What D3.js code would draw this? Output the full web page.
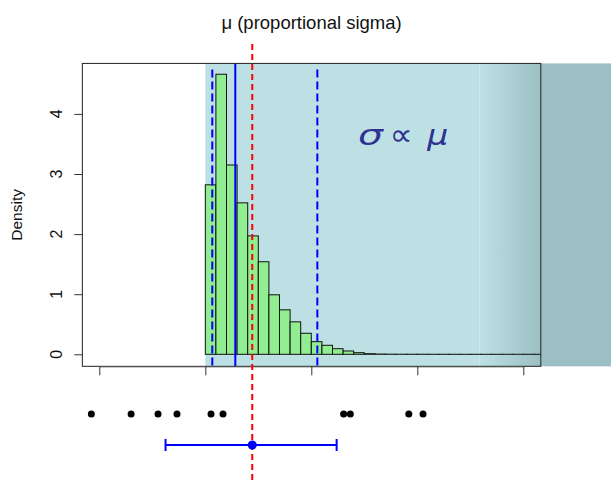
<!DOCTYPE html>
<html>
<head>
<meta charset="utf-8">
<script src="https://cdn.jsdelivr.net/npm/d3@7"></script>
<style>
  body { margin: 0; background: #fff; }
  svg { display: block; font-family: "Liberation Sans", Arial, sans-serif; }
</style>
</head>
<body>
<div id="wrapper"></div>
<script>
// histogram (density), bins of width 0.1 starting at 0
const binStart = 0;
const binWidth = 0.1;
const densities = [2.82, 4.66, 3.15, 2.52, 1.97, 1.54, 0.99, 0.74, 0.54, 0.35,
  0.21, 0.15, 0.093, 0.055, 0.027, 0.01, 0.004, 0.002, 0.001, 0.001,
  0.001, 0.0005, 0.0005, 0.0005, 0.0003, 0.0003, 0.0002, 0.0002, 0.0001, 0.0001,
  0.0001, 0.0001];

// observed points under the plot
const points = [-1.075, -0.70, -0.446, -0.267, 0.054, 0.167, 1.305, 1.368, 1.92, 2.054];
const pointMean = 0.443;
const interval = [-0.375, 1.239];

// vertical reference lines
const solidLine = 0.283;
const dashedLines = [0.066, 1.057];

const xTicks = [-1, 0, 1, 2, 3];
const yTicks = [0, 1, 2, 3, 4];
const xlim = [-1.16, 3.165];
const ylim = [-0.2, 4.84];
const shadeFrom = 0;       // positive-mu region
const fadeFrom = 2.585;    // where the shade starts to darken

// label glyphs: [text, x position (data units), length px, font size, italic]
const labelParts = [["σ", 1.44, 25, 28, true], ["∝", 1.74, 23, 30, false], ["μ", 2.094, 21, 28, true]];
const labelY = 3.49;

const width = 611, height = 480;

const x = d3.scaleLinear().domain([-1, 3]).range([99.3, 523.3]);
const y = d3.scaleLinear().domain([0, 4]).range([354.3, 113.9]);

const pLeft = x(xlim[0]), pRight = x(xlim[1]);
const pTop = y(ylim[1]), pBottom = y(ylim[0]);

const svg = d3.select("#wrapper")
  .append("svg")
  .attr("width", width)
  .attr("height", height);

const defs = svg.append("defs");
const grad = defs.append("linearGradient").attr("id", "fade");
grad.append("stop").attr("offset", "0%").attr("stop-color", "#bde1e4");
grad.append("stop").attr("offset", "100%").attr("stop-color", "#9bbfc2");
defs.append("clipPath").attr("id", "box")
  .append("rect")
  .attr("x", pLeft).attr("y", pTop)
  .attr("width", pRight - pLeft).attr("height", pBottom - pTop);

// shaded region (runs past the box to the right edge)
svg.append("rect")
  .attr("x", pRight).attr("y", pTop)
  .attr("width", width - pRight).attr("height", pBottom - pTop)
  .attr("fill", "#9bbfc2");
svg.append("rect")
  .attr("x", x(shadeFrom)).attr("y", pTop)
  .attr("width", x(fadeFrom) - x(shadeFrom)).attr("height", pBottom - pTop)
  .attr("fill", "#bce0e3");
svg.append("rect")
  .attr("x", x(fadeFrom)).attr("y", pTop)
  .attr("width", pRight - x(fadeFrom)).attr("height", pBottom - pTop)
  .attr("fill", "url(#fade)");

// histogram bars
svg.append("g")
  .attr("clip-path", "url(#box)")
  .selectAll("rect")
  .data(densities)
  .join("rect")
    .attr("x", (d, i) => x(binStart + i * binWidth))
    .attr("y", d => y(d))
    .attr("width", x(binWidth) - x(0))
    .attr("height", d => y(0) - y(d))
    .attr("fill", "#90ee90")
    .attr("stroke", "#111")
    .attr("stroke-width", 1);

// sigma ∝ mu label
svg.append("g")
  .selectAll("text")
  .data(labelParts)
  .join("text")
    .attr("x", d => x(d[1]))
    .attr("y", y(labelY))
    .attr("fill", "#2e3192")
    .attr("font-size", d => d[3])
    .attr("font-family", "DejaVu Sans")
    .attr("font-style", d => d[4] ? "italic" : "normal")
    .attr("textLength", d => d[2])
    .attr("lengthAdjust", "spacingAndGlyphs")
    .text(d => d[0]);

// blue reference lines
svg.append("line")
  .attr("x1", x(solidLine)).attr("x2", x(solidLine))
  .attr("y1", pTop).attr("y2", pBottom)
  .attr("stroke", "#0000ff").attr("stroke-width", 2);
svg.selectAll(".dl")
  .data(dashedLines)
  .join("line")
    .attr("class", "dl")
    .attr("x1", d => x(d)).attr("x2", d => x(d))
    .attr("y1", pTop + 6).attr("y2", pBottom)
    .attr("stroke", "#0000ff").attr("stroke-width", 2)
    .attr("stroke-dasharray", "8,4");

// plot box
svg.append("rect")
  .attr("x", pLeft).attr("y", pTop)
  .attr("width", pRight - pLeft).attr("height", pBottom - pTop)
  .attr("fill", "none").attr("stroke", "#222").attr("stroke-width", 1);

// axes
svg.append("g")
  .attr("transform", `translate(0,${pBottom})`)
  .call(d3.axisBottom(x).tickValues(xTicks).tickFormat("").tickSize(9).tickSizeOuter(0))
  .call(g => g.selectAll("line").attr("stroke", "#333"))
  .call(g => g.select(".domain").attr("stroke", "#555"));

svg.append("g")
  .attr("transform", `translate(${pLeft},0)`)
  .call(d3.axisLeft(y).tickValues(yTicks).tickSize(8).tickSizeOuter(0).tickFormat(""))
  .call(g => g.select(".domain").remove())
  .call(g => g.selectAll("line").attr("stroke", "#333"));

svg.append("g")
  .selectAll("text")
  .data(yTicks)
  .join("text")
    .attr("transform", d => `translate(${pLeft - 20.5},${y(d)}) rotate(-90)`)
    .attr("text-anchor", "middle")
    .attr("font-size", 16)
    .attr("fill", "#111")
    .text(d => d);

svg.append("text")
  .attr("transform", `translate(22,${(pTop + pBottom) / 2}) rotate(-90)`)
  .attr("text-anchor", "middle")
  .attr("font-size", 15.5)
  .attr("fill", "#111")
  .text("Density");

svg.append("text")
  .attr("x", (pLeft + pRight) / 2).attr("y", 29)
  .attr("text-anchor", "middle")
  .attr("font-size", 18.5)
  .attr("fill", "#111")
  .text("μ (proportional sigma)");

// data points
svg.append("g")
  .selectAll("circle")
  .data(points)
  .join("circle")
    .attr("cx", d => x(d))
    .attr("cy", 414)
    .attr("r", 3.5)
    .attr("fill", "#000");

// interval
const iy = 445;
svg.append("line")
  .attr("x1", x(interval[0])).attr("x2", x(interval[1]))
  .attr("y1", iy).attr("y2", iy)
  .attr("stroke", "#0000ff").attr("stroke-width", 2);
svg.selectAll(".cap")
  .data(interval)
  .join("line")
    .attr("class", "cap")
    .attr("x1", d => x(d)).attr("x2", d => x(d))
    .attr("y1", iy - 6).attr("y2", iy + 6)
    .attr("stroke", "#0000ff").attr("stroke-width", 2);

// red mean line
svg.append("line")
  .attr("x1", x(pointMean)).attr("x2", x(pointMean))
  .attr("y1", 44).attr("y2", height)
  .attr("stroke", "#ff0000").attr("stroke-width", 2)
  .attr("stroke-dasharray", "6,4");

svg.append("circle")
  .attr("cx", x(pointMean)).attr("cy", iy)
  .attr("r", 4.5)
  .attr("fill", "#0000ff");
</script>
</body>
</html>
